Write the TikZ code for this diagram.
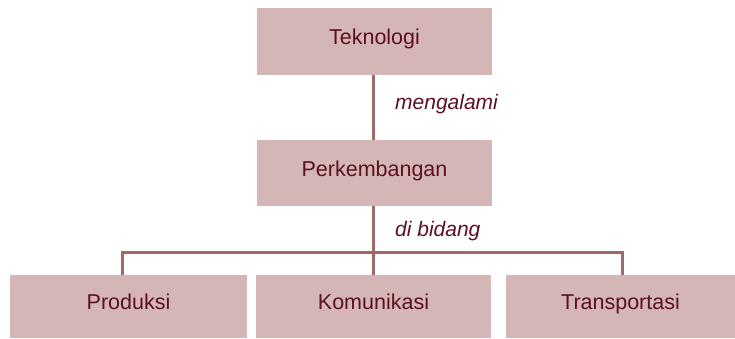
\documentclass[tikz,border=0pt]{standalone}
\usepackage{fontspec}
\setmainfont{Liberation Sans}
\definecolor{boxfill}{HTML}{D3B6B5}
\definecolor{linecol}{HTML}{A06868}
\definecolor{txtcol}{HTML}{5C1020}
\begin{document}
\begin{tikzpicture}[x=1pt,y=-1pt,
  box/.style={fill=boxfill,draw=none,minimum width=#1,text=txtcol,font=\fontsize{21.5}{24}\selectfont,inner sep=0pt,text height=11pt,text depth=5pt},
  conn/.style={draw=linecol,line width=3pt},
  lbl/.style={text=txtcol,font=\fontsize{21}{24}\selectfont\itshape,inner sep=0pt}]
\useasboundingbox (0,0) rectangle (735,338);
\node[box=235pt,minimum height=67pt] (tek) at (374.5,41.5) {Teknologi};
\node[box=235pt,minimum height=66pt] (per) at (374.5,173) {Perkembangan};
\node[box=237pt,minimum height=63pt] (pro) at (128.5,306.5) {Produksi};
\node[box=235pt,minimum height=63pt] (kom) at (373.5,306.5) {Komunikasi};
\node[box=229pt,minimum height=63pt] (tra) at (620.5,306.5) {Transportasi};
\coordinate (hl) at (122,252);
\coordinate (hm) at (373,252);
\coordinate (hr) at (622,252);
\draw[conn] (tek.south -| hm) -- (per.north -| hm);
\draw[conn] (per.south -| hm) -- (hm);
\draw[conn] (pro.north -| hl) -- (hl) -- (hr) -- (tra.north -| hr);
\draw[conn] (hm) -- (kom.north -| hm);
\node[lbl,anchor=west] (l1) at (395,104) {mengalami};
\node[lbl,anchor=west] (l2) at (395,231) {di bidang};
\end{tikzpicture}
\end{document}
